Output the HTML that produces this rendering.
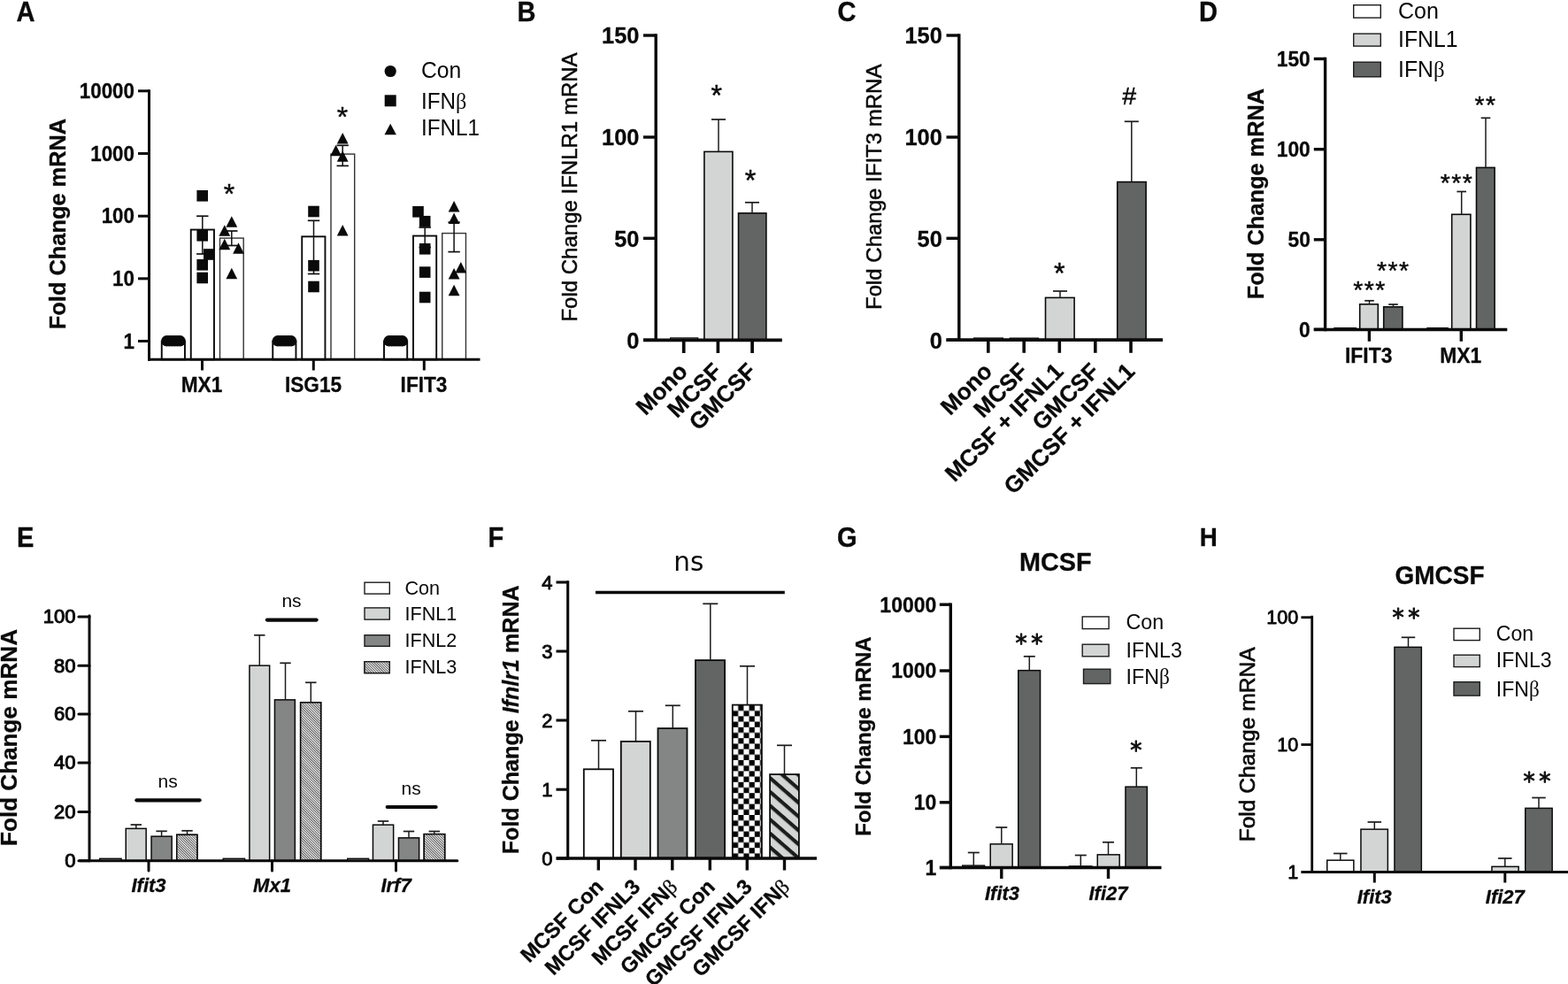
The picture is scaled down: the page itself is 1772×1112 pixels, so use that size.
<!DOCTYPE html>
<html lang="en">
<head>
<meta charset="utf-8">
<title>Figure</title>
<style>
html,body{margin:0;padding:0;background:#ffffff;}
body{width:1772px;height:1112px;overflow:hidden;}
svg{display:block;font-family:"Liberation Sans",sans-serif;fill:#0a0a0a;}
svg text{fill:#0a0a0a;stroke:none;}
svg text[font-weight="bold"]{stroke:#0a0a0a;stroke-width:0.3px;stroke-linejoin:round;}
</style>
</head>
<body>
<svg width="1772" height="1112" viewBox="0 0 1772 1112">
<rect x="0" y="0" width="1772" height="1112" fill="#ffffff" stroke="none"/>
<defs>
<pattern id="hatch" width="2" height="2" patternUnits="userSpaceOnUse" patternTransform="rotate(45)">
<rect width="2" height="2" fill="#ffffff"/><rect width="2" height="0.78" fill="#222222"/>
</pattern>
<pattern id="check" x="828.0" y="797.0" width="12.4" height="12.4" patternUnits="userSpaceOnUse">
<rect width="12.4" height="12.4" fill="#ffffff"/><rect x="6.2" y="0" width="6.2" height="6.2" fill="#050505"/><rect x="0" y="6.2" width="6.2" height="6.2" fill="#050505"/>
</pattern>
<pattern id="stripe" x="870" y="876.2" width="11.82" height="11.82" patternUnits="userSpaceOnUse" patternTransform="rotate(41 870 876.2)">
<rect width="11.82" height="11.82" fill="#d3d5d4"/><rect width="11.82" height="4.2" fill="#1c1c1c"/>
</pattern>
</defs>
<text x="0" y="0" font-size="30.68" font-weight="bold" font-style="normal" text-anchor="start" transform="translate(18.4 24) scale(0.9471 1)">A</text>
<text x="74.09" y="253" font-size="25.4" font-weight="bold" font-style="normal" text-anchor="middle" transform="rotate(-90 74.09 253)">Fold Change mRNA</text>
<rect x="182.75" y="385.65" width="26.2" height="20.65" fill="#fff" stroke="#0a0a0a" stroke-width="1.9"/>
<rect x="215.75" y="259.55" width="26.2" height="146.75" fill="#fff" stroke="#0a0a0a" stroke-width="1.9"/>
<rect x="248.5" y="269.1" width="26.7" height="137.2" fill="#fff" stroke="#333" stroke-width="1.4"/>
<rect x="308.25" y="385.65" width="26.2" height="20.65" fill="#fff" stroke="#0a0a0a" stroke-width="1.9"/>
<rect x="341.25" y="267.35" width="26.2" height="138.95" fill="#fff" stroke="#0a0a0a" stroke-width="1.9"/>
<rect x="374" y="174.1" width="26.7" height="232.2" fill="#fff" stroke="#333" stroke-width="1.4"/>
<rect x="434" y="385.65" width="26.2" height="20.65" fill="#fff" stroke="#0a0a0a" stroke-width="1.9"/>
<rect x="467" y="266.55" width="26.2" height="139.75" fill="#fff" stroke="#0a0a0a" stroke-width="1.9"/>
<rect x="499.75" y="263.6" width="26.7" height="142.7" fill="#fff" stroke="#333" stroke-width="1.4"/>
<line x1="228.8" y1="244.2" x2="228.8" y2="287" stroke="#111" stroke-width="1.5" stroke-linecap="butt"/>
<line x1="222.1" y1="244.2" x2="235.5" y2="244.2" stroke="#111" stroke-width="1.7" stroke-linecap="butt"/>
<line x1="222.1" y1="287" x2="235.5" y2="287" stroke="#111" stroke-width="1.7" stroke-linecap="butt"/>
<line x1="261.8" y1="261" x2="261.8" y2="277.5" stroke="#111" stroke-width="1.5" stroke-linecap="butt"/>
<line x1="255.1" y1="261" x2="268.5" y2="261" stroke="#111" stroke-width="1.7" stroke-linecap="butt"/>
<line x1="255.1" y1="277.5" x2="268.5" y2="277.5" stroke="#111" stroke-width="1.7" stroke-linecap="butt"/>
<line x1="354.5" y1="249.3" x2="354.5" y2="309.5" stroke="#111" stroke-width="1.5" stroke-linecap="butt"/>
<line x1="347.8" y1="249.3" x2="361.2" y2="249.3" stroke="#111" stroke-width="1.7" stroke-linecap="butt"/>
<line x1="347.8" y1="309.5" x2="361.2" y2="309.5" stroke="#111" stroke-width="1.7" stroke-linecap="butt"/>
<line x1="387.2" y1="164.3" x2="387.2" y2="187.4" stroke="#111" stroke-width="1.5" stroke-linecap="butt"/>
<line x1="380.5" y1="164.3" x2="393.9" y2="164.3" stroke="#111" stroke-width="1.7" stroke-linecap="butt"/>
<line x1="380.5" y1="187.4" x2="393.9" y2="187.4" stroke="#111" stroke-width="1.7" stroke-linecap="butt"/>
<line x1="480.2" y1="257" x2="480.2" y2="279.5" stroke="#111" stroke-width="1.5" stroke-linecap="butt"/>
<line x1="473.5" y1="257" x2="486.9" y2="257" stroke="#111" stroke-width="1.7" stroke-linecap="butt"/>
<line x1="473.5" y1="279.5" x2="486.9" y2="279.5" stroke="#111" stroke-width="1.7" stroke-linecap="butt"/>
<line x1="513.1" y1="251.2" x2="513.1" y2="284.6" stroke="#111" stroke-width="1.5" stroke-linecap="butt"/>
<line x1="506.4" y1="251.2" x2="519.8" y2="251.2" stroke="#111" stroke-width="1.7" stroke-linecap="butt"/>
<line x1="506.4" y1="284.6" x2="519.8" y2="284.6" stroke="#111" stroke-width="1.7" stroke-linecap="butt"/>
<circle cx="188.35" cy="385.3" r="6.2" fill="#0a0a0a"/>
<circle cx="191.39" cy="385.3" r="6.2" fill="#0a0a0a"/>
<circle cx="194.43" cy="385.3" r="6.2" fill="#0a0a0a"/>
<circle cx="197.47" cy="385.3" r="6.2" fill="#0a0a0a"/>
<circle cx="200.51" cy="385.3" r="6.2" fill="#0a0a0a"/>
<circle cx="203.55" cy="385.3" r="6.2" fill="#0a0a0a"/>
<circle cx="313.85" cy="385.3" r="6.2" fill="#0a0a0a"/>
<circle cx="316.89" cy="385.3" r="6.2" fill="#0a0a0a"/>
<circle cx="319.93" cy="385.3" r="6.2" fill="#0a0a0a"/>
<circle cx="322.97" cy="385.3" r="6.2" fill="#0a0a0a"/>
<circle cx="326.01" cy="385.3" r="6.2" fill="#0a0a0a"/>
<circle cx="329.05" cy="385.3" r="6.2" fill="#0a0a0a"/>
<circle cx="439.6" cy="385.3" r="6.2" fill="#0a0a0a"/>
<circle cx="442.64" cy="385.3" r="6.2" fill="#0a0a0a"/>
<circle cx="445.68" cy="385.3" r="6.2" fill="#0a0a0a"/>
<circle cx="448.72" cy="385.3" r="6.2" fill="#0a0a0a"/>
<circle cx="451.76" cy="385.3" r="6.2" fill="#0a0a0a"/>
<circle cx="454.8" cy="385.3" r="6.2" fill="#0a0a0a"/>
<rect x="222.4" y="215" width="12.6" height="12.6" fill="#0a0a0a"/>
<rect x="222.4" y="260" width="12.6" height="12.6" fill="#0a0a0a"/>
<rect x="230" y="281.2" width="12.6" height="12.6" fill="#0a0a0a"/>
<rect x="222.4" y="293" width="12.6" height="12.6" fill="#0a0a0a"/>
<rect x="222.4" y="307.7" width="12.6" height="12.6" fill="#0a0a0a"/>
<rect x="348.2" y="232.7" width="12.6" height="12.6" fill="#0a0a0a"/>
<rect x="348.2" y="293.9" width="12.6" height="12.6" fill="#0a0a0a"/>
<rect x="348.2" y="317.7" width="12.6" height="12.6" fill="#0a0a0a"/>
<rect x="466.2" y="233" width="12.6" height="12.6" fill="#0a0a0a"/>
<rect x="473.9" y="243.9" width="12.6" height="12.6" fill="#0a0a0a"/>
<rect x="473.9" y="275" width="12.6" height="12.6" fill="#0a0a0a"/>
<rect x="473.9" y="301.3" width="12.6" height="12.6" fill="#0a0a0a"/>
<rect x="473.9" y="329.7" width="12.6" height="12.6" fill="#0a0a0a"/>
<path d="M261.8 244.3L268.2 256.7L255.4 256.7Z" fill="#0a0a0a"/>
<path d="M253.8 254.3L260.2 266.7L247.4 266.7Z" fill="#0a0a0a"/>
<path d="M253.8 269.8L260.2 282.2L247.4 282.2Z" fill="#0a0a0a"/>
<path d="M269.5 274.3L275.9 286.7L263.1 286.7Z" fill="#0a0a0a"/>
<path d="M261.8 302.8L268.2 315.2L255.4 315.2Z" fill="#0a0a0a"/>
<path d="M387.2 150.1L393.6 162.5L380.8 162.5Z" fill="#0a0a0a"/>
<path d="M379.6 163.8L386 176.2L373.2 176.2Z" fill="#0a0a0a"/>
<path d="M387.2 170.3L393.6 182.7L380.8 182.7Z" fill="#0a0a0a"/>
<path d="M387.2 254.1L393.6 266.5L380.8 266.5Z" fill="#0a0a0a"/>
<path d="M513.1 227L519.5 239.4L506.7 239.4Z" fill="#0a0a0a"/>
<path d="M513.1 240.6L519.5 253L506.7 253Z" fill="#0a0a0a"/>
<path d="M520.8 296L527.2 308.4L514.4 308.4Z" fill="#0a0a0a"/>
<path d="M513.1 303.1L519.5 315.5L506.7 315.5Z" fill="#0a0a0a"/>
<path d="M513.1 321.8L519.5 334.2L506.7 334.2Z" fill="#0a0a0a"/>
<line x1="168.5" y1="101.3" x2="168.5" y2="407.8" stroke="#0a0a0a" stroke-width="3" stroke-linecap="butt"/>
<line x1="156" y1="385.5" x2="168.5" y2="385.5" stroke="#0a0a0a" stroke-width="3" stroke-linecap="butt"/>
<text x="0" y="0" font-size="23.62" font-weight="bold" font-style="normal" text-anchor="end" transform="translate(152 393.6) scale(0.9474 1)">1</text>
<line x1="156" y1="314.85" x2="168.5" y2="314.85" stroke="#0a0a0a" stroke-width="3" stroke-linecap="butt"/>
<text x="0" y="0" font-size="23.62" font-weight="bold" font-style="normal" text-anchor="end" transform="translate(152 322.95) scale(0.9474 1)">10</text>
<line x1="156" y1="244.2" x2="168.5" y2="244.2" stroke="#0a0a0a" stroke-width="3" stroke-linecap="butt"/>
<text x="0" y="0" font-size="23.62" font-weight="bold" font-style="normal" text-anchor="end" transform="translate(152 252.3) scale(0.9474 1)">100</text>
<line x1="156" y1="173.5" x2="168.5" y2="173.5" stroke="#0a0a0a" stroke-width="3" stroke-linecap="butt"/>
<text x="0" y="0" font-size="23.62" font-weight="bold" font-style="normal" text-anchor="end" transform="translate(152 181.6) scale(0.9474 1)">1000</text>
<line x1="156" y1="102.8" x2="168.5" y2="102.8" stroke="#0a0a0a" stroke-width="3" stroke-linecap="butt"/>
<text x="0" y="0" font-size="23.62" font-weight="bold" font-style="normal" text-anchor="end" transform="translate(152 110.9) scale(0.9474 1)">10000</text>
<line x1="167" y1="406.3" x2="542.5" y2="406.3" stroke="#0a0a0a" stroke-width="3" stroke-linecap="butt"/>
<line x1="228.5" y1="406.3" x2="228.5" y2="418.5" stroke="#0a0a0a" stroke-width="3" stroke-linecap="butt"/>
<line x1="354.3" y1="406.3" x2="354.3" y2="418.5" stroke="#0a0a0a" stroke-width="3" stroke-linecap="butt"/>
<line x1="479.3" y1="406.3" x2="479.3" y2="418.5" stroke="#0a0a0a" stroke-width="3" stroke-linecap="butt"/>
<text x="0" y="0" font-size="23.31" font-weight="bold" font-style="normal" text-anchor="middle" transform="translate(228 443) scale(0.9714 1)">MX1</text>
<text x="0" y="0" font-size="23.31" font-weight="bold" font-style="normal" text-anchor="middle" transform="translate(354 443) scale(0.9714 1)">ISG15</text>
<text x="0" y="0" font-size="23.31" font-weight="bold" font-style="normal" text-anchor="middle" transform="translate(479 443) scale(0.9714 1)">IFIT3</text>
<text x="259" y="230.4" font-size="32" font-weight="normal" font-style="normal" text-anchor="middle" style="stroke:#0a0a0a;stroke-width:0.45px;stroke-linejoin:round">*</text>
<text x="387" y="142.6" font-size="32" font-weight="normal" font-style="normal" text-anchor="middle" style="stroke:#0a0a0a;stroke-width:0.45px;stroke-linejoin:round">*</text>
<circle cx="441.2" cy="80.5" r="6.6" fill="#0a0a0a"/>
<rect x="434.7" y="107.3" width="13" height="13" fill="#0a0a0a"/>
<path d="M441.2 139.7L447.9 152.3L434.5 152.3Z" fill="#0a0a0a"/>
<text x="0" y="0" font-size="25.41" font-weight="normal" font-style="normal" text-anchor="start" transform="translate(476 88) scale(0.9714 1)">Con</text>
<text x="0" y="0" font-size="25.41" font-weight="normal" font-style="normal" text-anchor="start" transform="translate(476 122.5) scale(0.9524 1)">IFN<tspan font-family="'Liberation Serif', 'DejaVu Serif', serif" font-weight="normal" font-style="normal">β</tspan></text>
<text x="0" y="0" font-size="25.41" font-weight="normal" font-style="normal" text-anchor="start" transform="translate(476 152.6) scale(0.9524 1)">IFNL1</text>
<text x="0" y="0" font-size="30.68" font-weight="bold" font-style="normal" text-anchor="start" transform="translate(584.4 24) scale(0.9471 1)">B</text>
<text x="652.19" y="211.5" font-size="24" font-weight="normal" font-style="normal" text-anchor="middle" transform="rotate(-90 652.19 211.5)" style="stroke:#0a0a0a;stroke-width:0.55px;stroke-linejoin:round">Fold Change IFNLR1 mRNA</text>
<rect x="757.7" y="382" width="30.9" height="2.3" fill="#fff" stroke="#0a0a0a" stroke-width="1.4"/>
<rect x="795.9" y="171.4" width="32" height="212.9" fill="#d3d5d4" stroke="#0a0a0a" stroke-width="1.6"/>
<rect x="834.5" y="240.9" width="31.4" height="143.4" fill="#636464" stroke="#0a0a0a" stroke-width="1.6"/>
<line x1="812" y1="135" x2="812" y2="171.5" stroke="#1c1c1c" stroke-width="1.5" stroke-linecap="butt"/>
<line x1="804" y1="135" x2="820" y2="135" stroke="#1c1c1c" stroke-width="1.72" stroke-linecap="butt"/>
<line x1="850" y1="228.8" x2="850" y2="241" stroke="#1c1c1c" stroke-width="1.5" stroke-linecap="butt"/>
<line x1="842" y1="228.8" x2="858" y2="228.8" stroke="#1c1c1c" stroke-width="1.72" stroke-linecap="butt"/>
<line x1="741.2" y1="38.3" x2="741.2" y2="386" stroke="#0a0a0a" stroke-width="3.4" stroke-linecap="butt"/>
<line x1="727" y1="40" x2="741.2" y2="40" stroke="#0a0a0a" stroke-width="3.4" stroke-linecap="butt"/>
<text x="0" y="0" font-size="26.04" font-weight="bold" font-style="normal" text-anchor="end" transform="translate(722.4 49.2) scale(0.9762 1)">150</text>
<line x1="727" y1="155" x2="741.2" y2="155" stroke="#0a0a0a" stroke-width="3.4" stroke-linecap="butt"/>
<text x="0" y="0" font-size="26.04" font-weight="bold" font-style="normal" text-anchor="end" transform="translate(722.4 164.2) scale(0.9762 1)">100</text>
<line x1="727" y1="269.3" x2="741.2" y2="269.3" stroke="#0a0a0a" stroke-width="3.4" stroke-linecap="butt"/>
<text x="0" y="0" font-size="26.04" font-weight="bold" font-style="normal" text-anchor="end" transform="translate(722.4 278.5) scale(0.9762 1)">50</text>
<line x1="727" y1="384.3" x2="741.2" y2="384.3" stroke="#0a0a0a" stroke-width="3.4" stroke-linecap="butt"/>
<text x="0" y="0" font-size="26.04" font-weight="bold" font-style="normal" text-anchor="end" transform="translate(722.4 393.5) scale(0.9762 1)">0</text>
<line x1="727" y1="384.3" x2="883.8" y2="384.3" stroke="#0a0a0a" stroke-width="3.7" stroke-linecap="butt"/>
<line x1="772.7" y1="384.3" x2="772.7" y2="399" stroke="#0a0a0a" stroke-width="3.7" stroke-linecap="butt"/>
<line x1="811.4" y1="384.3" x2="811.4" y2="399" stroke="#0a0a0a" stroke-width="3.7" stroke-linecap="butt"/>
<line x1="850.1" y1="384.3" x2="850.1" y2="399" stroke="#0a0a0a" stroke-width="3.7" stroke-linecap="butt"/>
<text x="778.6" y="421.2" font-size="26.1" font-weight="bold" font-style="normal" text-anchor="end" transform="rotate(-45 778.6 421.2)">Mono</text>
<text x="817.4" y="421.2" font-size="26.1" font-weight="bold" font-style="normal" text-anchor="end" transform="rotate(-45 817.4 421.2)">MCSF</text>
<text x="856.1" y="421.2" font-size="26.1" font-weight="bold" font-style="normal" text-anchor="end" transform="rotate(-45 856.1 421.2)">GMCSF</text>
<text x="809.9" y="119.35" font-size="32.3" font-weight="normal" font-style="normal" text-anchor="middle" style="stroke:#0a0a0a;stroke-width:0.45px;stroke-linejoin:round">*</text>
<text x="848" y="215.15" font-size="32.3" font-weight="normal" font-style="normal" text-anchor="middle" style="stroke:#0a0a0a;stroke-width:0.45px;stroke-linejoin:round">*</text>
<text x="0" y="0" font-size="30.68" font-weight="bold" font-style="normal" text-anchor="start" transform="translate(946.6 24) scale(0.9471 1)">C</text>
<text x="995.99" y="211.3" font-size="24" font-weight="normal" font-style="normal" text-anchor="middle" transform="rotate(-90 995.99 211.3)" style="stroke:#0a0a0a;stroke-width:0.55px;stroke-linejoin:round">Fold Change IFIT3 mRNA</text>
<rect x="1100.7" y="382.1" width="32.7" height="2.2" fill="#fff" stroke="#0a0a0a" stroke-width="1.4"/>
<rect x="1141.4" y="382.2" width="32" height="2.1" fill="#fff" stroke="#0a0a0a" stroke-width="1.4"/>
<rect x="1181.5" y="336.4" width="32.6" height="47.9" fill="#d3d5d4" stroke="#0a0a0a" stroke-width="1.6"/>
<rect x="1262.7" y="205.6" width="32.4" height="178.7" fill="#636464" stroke="#0a0a0a" stroke-width="1.6"/>
<line x1="1198" y1="329" x2="1198" y2="336.5" stroke="#1c1c1c" stroke-width="1.5" stroke-linecap="butt"/>
<line x1="1190" y1="329" x2="1206" y2="329" stroke="#1c1c1c" stroke-width="1.72" stroke-linecap="butt"/>
<line x1="1278.8" y1="137.3" x2="1278.8" y2="205.8" stroke="#1c1c1c" stroke-width="1.5" stroke-linecap="butt"/>
<line x1="1270.8" y1="137.3" x2="1286.8" y2="137.3" stroke="#1c1c1c" stroke-width="1.72" stroke-linecap="butt"/>
<line x1="1083.8" y1="38.3" x2="1083.8" y2="386" stroke="#0a0a0a" stroke-width="3.4" stroke-linecap="butt"/>
<line x1="1069.5" y1="40" x2="1083.8" y2="40" stroke="#0a0a0a" stroke-width="3.4" stroke-linecap="butt"/>
<text x="0" y="0" font-size="26.04" font-weight="bold" font-style="normal" text-anchor="end" transform="translate(1064.8 49.2) scale(0.9762 1)">150</text>
<line x1="1069.5" y1="155" x2="1083.8" y2="155" stroke="#0a0a0a" stroke-width="3.4" stroke-linecap="butt"/>
<text x="0" y="0" font-size="26.04" font-weight="bold" font-style="normal" text-anchor="end" transform="translate(1064.8 164.2) scale(0.9762 1)">100</text>
<line x1="1069.5" y1="269.3" x2="1083.8" y2="269.3" stroke="#0a0a0a" stroke-width="3.4" stroke-linecap="butt"/>
<text x="0" y="0" font-size="26.04" font-weight="bold" font-style="normal" text-anchor="end" transform="translate(1064.8 278.5) scale(0.9762 1)">50</text>
<line x1="1069.5" y1="384.3" x2="1083.8" y2="384.3" stroke="#0a0a0a" stroke-width="3.4" stroke-linecap="butt"/>
<text x="0" y="0" font-size="26.04" font-weight="bold" font-style="normal" text-anchor="end" transform="translate(1064.8 393.5) scale(0.9762 1)">0</text>
<line x1="1069.5" y1="384.1" x2="1314" y2="384.1" stroke="#0a0a0a" stroke-width="3.6" stroke-linecap="butt"/>
<line x1="1116.8" y1="384.1" x2="1116.8" y2="398.8" stroke="#0a0a0a" stroke-width="3.6" stroke-linecap="butt"/>
<line x1="1157.2" y1="384.1" x2="1157.2" y2="398.8" stroke="#0a0a0a" stroke-width="3.6" stroke-linecap="butt"/>
<line x1="1197.3" y1="384.1" x2="1197.3" y2="398.8" stroke="#0a0a0a" stroke-width="3.6" stroke-linecap="butt"/>
<line x1="1237.8" y1="384.1" x2="1237.8" y2="398.8" stroke="#0a0a0a" stroke-width="3.6" stroke-linecap="butt"/>
<line x1="1278" y1="384.1" x2="1278" y2="398.8" stroke="#0a0a0a" stroke-width="3.6" stroke-linecap="butt"/>
<text x="1122.9" y="421.2" font-size="26.1" font-weight="bold" font-style="normal" text-anchor="end" transform="rotate(-45 1122.9 421.2)">Mono</text>
<text x="1163.3" y="421.2" font-size="26.1" font-weight="bold" font-style="normal" text-anchor="end" transform="rotate(-45 1163.3 421.2)">MCSF</text>
<text x="1203.4" y="421.2" font-size="26.1" font-weight="bold" font-style="normal" text-anchor="end" transform="rotate(-45 1203.4 421.2)">MCSF + IFNL1</text>
<text x="1243.9" y="421.2" font-size="26.1" font-weight="bold" font-style="normal" text-anchor="end" transform="rotate(-45 1243.9 421.2)">GMCSF</text>
<text x="1284.1" y="421.2" font-size="26.1" font-weight="bold" font-style="normal" text-anchor="end" transform="rotate(-45 1284.1 421.2)">GMCSF + IFNL1</text>
<text x="1197.2" y="319.55" font-size="32.3" font-weight="normal" font-style="normal" text-anchor="middle" style="stroke:#0a0a0a;stroke-width:0.45px;stroke-linejoin:round">*</text>
<text x="1276.3" y="118.3" font-size="28.5" font-weight="normal" font-style="normal" text-anchor="middle" style="stroke:#0a0a0a;stroke-width:0.45px">#</text>
<text x="0" y="0" font-size="30.68" font-weight="bold" font-style="normal" text-anchor="start" transform="translate(1354.9 24) scale(0.9471 1)">D</text>
<text x="1428.09" y="219" font-size="25.4" font-weight="bold" font-style="normal" text-anchor="middle" transform="rotate(-90 1428.09 219)">Fold Change mRNA</text>
<rect x="1508" y="370.7" width="24.4" height="1.8" fill="#fff" stroke="#0a0a0a" stroke-width="1.4"/>
<rect x="1536.7" y="343.8" width="20.6" height="28.7" fill="#d3d5d4" stroke="#0a0a0a" stroke-width="1.6"/>
<rect x="1563.7" y="346.8" width="21.2" height="25.7" fill="#636464" stroke="#0a0a0a" stroke-width="1.6"/>
<rect x="1613" y="370.7" width="23.2" height="1.8" fill="#fff" stroke="#0a0a0a" stroke-width="1.4"/>
<rect x="1640.7" y="242.3" width="21.2" height="130.2" fill="#d3d5d4" stroke="#0a0a0a" stroke-width="1.6"/>
<rect x="1668.5" y="189.4" width="20.6" height="183.1" fill="#636464" stroke="#0a0a0a" stroke-width="1.6"/>
<line x1="1547.5" y1="339.8" x2="1547.5" y2="344" stroke="#1c1c1c" stroke-width="1.5" stroke-linecap="butt"/>
<line x1="1542.2" y1="339.8" x2="1552.8" y2="339.8" stroke="#1c1c1c" stroke-width="1.72" stroke-linecap="butt"/>
<line x1="1574.5" y1="344" x2="1574.5" y2="347" stroke="#1c1c1c" stroke-width="1.5" stroke-linecap="butt"/>
<line x1="1569.2" y1="344" x2="1579.8" y2="344" stroke="#1c1c1c" stroke-width="1.72" stroke-linecap="butt"/>
<line x1="1651.7" y1="216.5" x2="1651.7" y2="242.5" stroke="#1c1c1c" stroke-width="1.5" stroke-linecap="butt"/>
<line x1="1646.4" y1="216.5" x2="1657" y2="216.5" stroke="#1c1c1c" stroke-width="1.72" stroke-linecap="butt"/>
<line x1="1679" y1="133.3" x2="1679" y2="189.5" stroke="#1c1c1c" stroke-width="1.5" stroke-linecap="butt"/>
<line x1="1673.7" y1="133.3" x2="1684.3" y2="133.3" stroke="#1c1c1c" stroke-width="1.72" stroke-linecap="butt"/>
<line x1="1497.6" y1="64.8" x2="1497.6" y2="374.2" stroke="#0a0a0a" stroke-width="3.4" stroke-linecap="butt"/>
<line x1="1484.8" y1="66.5" x2="1497.6" y2="66.5" stroke="#0a0a0a" stroke-width="3.4" stroke-linecap="butt"/>
<text x="0" y="0" font-size="23.94" font-weight="bold" font-style="normal" text-anchor="end" transform="translate(1480.8 74.71) scale(0.9524 1)">150</text>
<line x1="1484.8" y1="168.7" x2="1497.6" y2="168.7" stroke="#0a0a0a" stroke-width="3.4" stroke-linecap="butt"/>
<text x="0" y="0" font-size="23.94" font-weight="bold" font-style="normal" text-anchor="end" transform="translate(1480.8 176.91) scale(0.9524 1)">100</text>
<line x1="1484.8" y1="270.8" x2="1497.6" y2="270.8" stroke="#0a0a0a" stroke-width="3.4" stroke-linecap="butt"/>
<text x="0" y="0" font-size="23.94" font-weight="bold" font-style="normal" text-anchor="end" transform="translate(1480.8 279.01) scale(0.9524 1)">50</text>
<line x1="1484.8" y1="372.3" x2="1497.6" y2="372.3" stroke="#0a0a0a" stroke-width="3.4" stroke-linecap="butt"/>
<text x="0" y="0" font-size="23.94" font-weight="bold" font-style="normal" text-anchor="end" transform="translate(1480.8 380.51) scale(0.9524 1)">0</text>
<line x1="1484.8" y1="372.5" x2="1703.3" y2="372.5" stroke="#0a0a0a" stroke-width="3.4" stroke-linecap="butt"/>
<line x1="1547.4" y1="372.5" x2="1547.4" y2="385.8" stroke="#0a0a0a" stroke-width="3.4" stroke-linecap="butt"/>
<line x1="1651.3" y1="372.5" x2="1651.3" y2="385.8" stroke="#0a0a0a" stroke-width="3.4" stroke-linecap="butt"/>
<text x="0" y="0" font-size="24.27" font-weight="bold" font-style="normal" text-anchor="middle" transform="translate(1546.7 409.5) scale(0.9434 1)">IFIT3</text>
<text x="0" y="0" font-size="24.27" font-weight="bold" font-style="normal" text-anchor="middle" transform="translate(1650.8 409.5) scale(0.9434 1)">MX1</text>
<text x="1548.05" y="337.16" font-size="28.4" font-weight="normal" font-style="normal" text-anchor="middle" letter-spacing="1.5" style="stroke:#0a0a0a;stroke-width:0.45px;stroke-linejoin:round">***</text>
<text x="1574.75" y="315.36" font-size="28.4" font-weight="normal" font-style="normal" text-anchor="middle" letter-spacing="1.5" style="stroke:#0a0a0a;stroke-width:0.45px;stroke-linejoin:round">***</text>
<text x="1646.55" y="215.86" font-size="28.4" font-weight="normal" font-style="normal" text-anchor="middle" letter-spacing="1.5" style="stroke:#0a0a0a;stroke-width:0.45px;stroke-linejoin:round">***</text>
<text x="1679.05" y="128.25" font-size="28.4" font-weight="normal" font-style="normal" text-anchor="middle" letter-spacing="1.5" style="stroke:#0a0a0a;stroke-width:0.45px;stroke-linejoin:round">**</text>
<rect x="1529.7" y="5.7" width="30.6" height="14.4" fill="#fff" stroke="#1c1c1c" stroke-width="1.4"/>
<rect x="1529.7" y="38.1" width="30.6" height="14" fill="#d3d5d4" stroke="#1c1c1c" stroke-width="1.4"/>
<rect x="1529.7" y="70.2" width="30.6" height="16.6" fill="#636464" stroke="#1c1c1c" stroke-width="1.4"/>
<text x="0" y="0" font-size="25.64" font-weight="normal" font-style="normal" text-anchor="start" transform="translate(1580 20.9) scale(0.9763 1)">Con</text>
<text x="0" y="0" font-size="25.52" font-weight="normal" font-style="normal" text-anchor="start" transform="translate(1580 52.6) scale(0.9714 1)">IFNL1</text>
<text x="0" y="0" font-size="25.52" font-weight="normal" font-style="normal" text-anchor="start" transform="translate(1580 86.8) scale(0.9714 1)">IFN<tspan font-family="'Liberation Serif', 'DejaVu Serif', serif" font-weight="normal" font-style="normal">β</tspan></text>
<text x="0" y="0" font-size="30.68" font-weight="bold" font-style="normal" text-anchor="start" transform="translate(18.9 617.5) scale(0.9471 1)">E</text>
<text x="19.34" y="833.5" font-size="26.1" font-weight="bold" font-style="normal" text-anchor="middle" transform="rotate(-90 19.34 833.5)">Fold Change mRNA</text>
<rect x="112.7" y="970.3" width="24.4" height="2.5" fill="#fff" stroke="#0a0a0a" stroke-width="1.4"/>
<rect x="142.25" y="936.35" width="22.9" height="36.45" fill="#d3d5d4" stroke="#0a0a0a" stroke-width="1.5"/>
<rect x="171.05" y="945.15" width="23.1" height="27.65" fill="#848585" stroke="#0a0a0a" stroke-width="1.5"/>
<rect x="199.75" y="943.35" width="23.1" height="29.45" fill="#fff" stroke="#0a0a0a" stroke-width="1.5"/>
<rect x="199.75" y="943.35" width="23.1" height="29.45" fill="url(#hatch)" stroke="#0a0a0a" stroke-width="1.5"/>
<rect x="252.2" y="970.3" width="24.4" height="2.5" fill="#fff" stroke="#0a0a0a" stroke-width="1.4"/>
<rect x="281.95" y="752.15" width="22.7" height="220.65" fill="#d3d5d4" stroke="#0a0a0a" stroke-width="1.5"/>
<rect x="310.45" y="790.85" width="22.9" height="181.95" fill="#848585" stroke="#0a0a0a" stroke-width="1.5"/>
<rect x="339.65" y="793.85" width="23" height="178.95" fill="#fff" stroke="#0a0a0a" stroke-width="1.5"/>
<rect x="339.65" y="793.85" width="23" height="178.95" fill="url(#hatch)" stroke="#0a0a0a" stroke-width="1.5"/>
<rect x="392.7" y="970.3" width="23.9" height="2.5" fill="#fff" stroke="#0a0a0a" stroke-width="1.4"/>
<rect x="421.45" y="932.15" width="23.2" height="40.65" fill="#d3d5d4" stroke="#0a0a0a" stroke-width="1.5"/>
<rect x="450.45" y="946.85" width="23.2" height="25.95" fill="#848585" stroke="#0a0a0a" stroke-width="1.5"/>
<rect x="479.25" y="942.65" width="23.4" height="30.15" fill="#fff" stroke="#0a0a0a" stroke-width="1.5"/>
<rect x="479.25" y="942.65" width="23.4" height="30.15" fill="url(#hatch)" stroke="#0a0a0a" stroke-width="1.5"/>
<line x1="153.8" y1="932" x2="153.8" y2="936.5" stroke="#1c1c1c" stroke-width="1.5" stroke-linecap="butt"/>
<line x1="147.6" y1="932" x2="160" y2="932" stroke="#1c1c1c" stroke-width="1.72" stroke-linecap="butt"/>
<line x1="182.6" y1="939.3" x2="182.6" y2="945.3" stroke="#1c1c1c" stroke-width="1.5" stroke-linecap="butt"/>
<line x1="176.4" y1="939.3" x2="188.8" y2="939.3" stroke="#1c1c1c" stroke-width="1.72" stroke-linecap="butt"/>
<line x1="211.5" y1="938.8" x2="211.5" y2="943.5" stroke="#1c1c1c" stroke-width="1.5" stroke-linecap="butt"/>
<line x1="205.3" y1="938.8" x2="217.7" y2="938.8" stroke="#1c1c1c" stroke-width="1.72" stroke-linecap="butt"/>
<line x1="293.3" y1="717.8" x2="293.3" y2="752.3" stroke="#1c1c1c" stroke-width="1.5" stroke-linecap="butt"/>
<line x1="287.1" y1="717.8" x2="299.5" y2="717.8" stroke="#1c1c1c" stroke-width="1.72" stroke-linecap="butt"/>
<line x1="322.5" y1="749.3" x2="322.5" y2="791" stroke="#1c1c1c" stroke-width="1.5" stroke-linecap="butt"/>
<line x1="316.3" y1="749.3" x2="328.7" y2="749.3" stroke="#1c1c1c" stroke-width="1.72" stroke-linecap="butt"/>
<line x1="351.3" y1="771.3" x2="351.3" y2="794" stroke="#1c1c1c" stroke-width="1.5" stroke-linecap="butt"/>
<line x1="345.1" y1="771.3" x2="357.5" y2="771.3" stroke="#1c1c1c" stroke-width="1.72" stroke-linecap="butt"/>
<line x1="433" y1="928" x2="433" y2="932.3" stroke="#1c1c1c" stroke-width="1.5" stroke-linecap="butt"/>
<line x1="426.8" y1="928" x2="439.2" y2="928" stroke="#1c1c1c" stroke-width="1.72" stroke-linecap="butt"/>
<line x1="462" y1="939.5" x2="462" y2="947" stroke="#1c1c1c" stroke-width="1.5" stroke-linecap="butt"/>
<line x1="455.8" y1="939.5" x2="468.2" y2="939.5" stroke="#1c1c1c" stroke-width="1.72" stroke-linecap="butt"/>
<line x1="490.8" y1="939.5" x2="490.8" y2="942.8" stroke="#1c1c1c" stroke-width="1.5" stroke-linecap="butt"/>
<line x1="484.6" y1="939.5" x2="497" y2="939.5" stroke="#1c1c1c" stroke-width="1.72" stroke-linecap="butt"/>
<line x1="101" y1="695.8" x2="101" y2="972.8" stroke="#0a0a0a" stroke-width="3" stroke-linecap="round"/>
<line x1="88.9" y1="697" x2="101" y2="697" stroke="#0a0a0a" stroke-width="3" stroke-linecap="round"/>
<text x="0" y="0" font-size="21.56" font-weight="normal" font-style="normal" text-anchor="end" transform="translate(85.4 704.4) scale(1.0204 1)" style="stroke:#0a0a0a;stroke-width:1.0px;stroke-linejoin:round">100</text>
<line x1="88.9" y1="752.2" x2="101" y2="752.2" stroke="#0a0a0a" stroke-width="3" stroke-linecap="round"/>
<text x="0" y="0" font-size="21.56" font-weight="normal" font-style="normal" text-anchor="end" transform="translate(85.4 759.6) scale(1.0204 1)" style="stroke:#0a0a0a;stroke-width:1.0px;stroke-linejoin:round">80</text>
<line x1="88.9" y1="807" x2="101" y2="807" stroke="#0a0a0a" stroke-width="3" stroke-linecap="round"/>
<text x="0" y="0" font-size="21.56" font-weight="normal" font-style="normal" text-anchor="end" transform="translate(85.4 814.4) scale(1.0204 1)" style="stroke:#0a0a0a;stroke-width:1.0px;stroke-linejoin:round">60</text>
<line x1="88.9" y1="862" x2="101" y2="862" stroke="#0a0a0a" stroke-width="3" stroke-linecap="round"/>
<text x="0" y="0" font-size="21.56" font-weight="normal" font-style="normal" text-anchor="end" transform="translate(85.4 869.4) scale(1.0204 1)" style="stroke:#0a0a0a;stroke-width:1.0px;stroke-linejoin:round">40</text>
<line x1="88.9" y1="917.5" x2="101" y2="917.5" stroke="#0a0a0a" stroke-width="3" stroke-linecap="round"/>
<text x="0" y="0" font-size="21.56" font-weight="normal" font-style="normal" text-anchor="end" transform="translate(85.4 924.9) scale(1.0204 1)" style="stroke:#0a0a0a;stroke-width:1.0px;stroke-linejoin:round">20</text>
<line x1="88.9" y1="972.8" x2="101" y2="972.8" stroke="#0a0a0a" stroke-width="3" stroke-linecap="round"/>
<text x="0" y="0" font-size="21.56" font-weight="normal" font-style="normal" text-anchor="end" transform="translate(85.4 980.2) scale(1.0204 1)" style="stroke:#0a0a0a;stroke-width:1.0px;stroke-linejoin:round">0</text>
<line x1="90.3" y1="972.8" x2="516.8" y2="972.8" stroke="#0a0a0a" stroke-width="3" stroke-linecap="round"/>
<line x1="168" y1="972.8" x2="168" y2="984" stroke="#0a0a0a" stroke-width="3" stroke-linecap="round"/>
<line x1="307.5" y1="972.8" x2="307.5" y2="984" stroke="#0a0a0a" stroke-width="3" stroke-linecap="round"/>
<line x1="447.5" y1="972.8" x2="447.5" y2="984" stroke="#0a0a0a" stroke-width="3" stroke-linecap="round"/>
<text x="168" y="1008" font-size="22" font-weight="bold" font-style="italic" text-anchor="middle">Ifit3</text>
<text x="307.5" y="1008" font-size="22" font-weight="bold" font-style="italic" text-anchor="middle">Mx1</text>
<text x="447.5" y="1008" font-size="22" font-weight="bold" font-style="italic" text-anchor="middle">Irf7</text>
<line x1="154.4" y1="904.3" x2="225.6" y2="904.3" stroke="#0a0a0a" stroke-width="4.2" stroke-linecap="round"/>
<text x="189.6" y="890" font-size="21" font-weight="normal" font-style="normal" text-anchor="middle">ns</text>
<line x1="301.9" y1="700.6" x2="357.6" y2="700.6" stroke="#0a0a0a" stroke-width="4.2" stroke-linecap="round"/>
<text x="329.5" y="686.3" font-size="21" font-weight="normal" font-style="normal" text-anchor="middle">ns</text>
<line x1="437.7" y1="912" x2="492.6" y2="912" stroke="#0a0a0a" stroke-width="4.2" stroke-linecap="round"/>
<text x="464.6" y="897.5" font-size="21" font-weight="normal" font-style="normal" text-anchor="middle">ns</text>
<rect x="412" y="658.2" width="28.3" height="12.9" fill="#fff" stroke="#1c1c1c" stroke-width="1.4"/>
<text x="0" y="0" font-size="22.68" font-weight="normal" font-style="normal" text-anchor="start" transform="translate(457.5 671.6) scale(0.9524 1)">Con</text>
<rect x="412" y="686.9" width="28.3" height="13.2" fill="#d3d5d4" stroke="#1c1c1c" stroke-width="1.4"/>
<text x="0" y="0" font-size="22.68" font-weight="normal" font-style="normal" text-anchor="start" transform="translate(457.5 700.6) scale(0.9524 1)">IFNL1</text>
<rect x="412" y="717.7" width="28.3" height="12.6" fill="#848585" stroke="#1c1c1c" stroke-width="1.4"/>
<text x="0" y="0" font-size="22.68" font-weight="normal" font-style="normal" text-anchor="start" transform="translate(457.5 730.8) scale(0.9524 1)">IFNL2</text>
<rect x="412" y="747.7" width="28.3" height="12.9" fill="#fff" stroke="#1c1c1c" stroke-width="1.4"/>
<rect x="412" y="747.7" width="28.3" height="12.9" fill="url(#hatch)" stroke="#1c1c1c" stroke-width="1.4"/>
<text x="0" y="0" font-size="22.68" font-weight="normal" font-style="normal" text-anchor="start" transform="translate(457.5 761.1) scale(0.9524 1)">IFNL3</text>
<text x="0" y="0" font-size="30.68" font-weight="bold" font-style="normal" text-anchor="start" transform="translate(551.4 617.5) scale(0.9471 1)">F</text>
<text x="586.29" y="813.3" font-size="25.1" font-weight="bold" font-style="normal" text-anchor="middle" transform="rotate(-90 586.29 813.3)">Fold Change <tspan font-style="italic">Ifnlr1</tspan> mRNA</text>
<rect x="659.8" y="869.3" width="33.2" height="100.7" fill="#fff" stroke="#0a0a0a" stroke-width="1.8"/>
<rect x="701.8" y="837.9" width="33" height="132.1" fill="#d3d5d4" stroke="#0a0a0a" stroke-width="1.8"/>
<rect x="743.5" y="823.1" width="33" height="146.9" fill="#848585" stroke="#0a0a0a" stroke-width="1.8"/>
<rect x="786" y="746.1" width="33.1" height="223.9" fill="#636464" stroke="#0a0a0a" stroke-width="1.8"/>
<rect x="827.8" y="796.6" width="33.1" height="173.4" fill="url(#check)" stroke="#0a0a0a" stroke-width="1.8"/>
<rect x="870.1" y="875.1" width="32.8" height="94.9" fill="url(#stripe)" stroke="#0a0a0a" stroke-width="1.8"/>
<line x1="676.5" y1="836.8" x2="676.5" y2="869.3" stroke="#1c1c1c" stroke-width="1.5" stroke-linecap="butt"/>
<line x1="668" y1="836.8" x2="685" y2="836.8" stroke="#1c1c1c" stroke-width="1.72" stroke-linecap="butt"/>
<line x1="718.5" y1="803.8" x2="718.5" y2="838" stroke="#1c1c1c" stroke-width="1.5" stroke-linecap="butt"/>
<line x1="710" y1="803.8" x2="727" y2="803.8" stroke="#1c1c1c" stroke-width="1.72" stroke-linecap="butt"/>
<line x1="760.3" y1="797.3" x2="760.3" y2="823" stroke="#1c1c1c" stroke-width="1.5" stroke-linecap="butt"/>
<line x1="751.8" y1="797.3" x2="768.8" y2="797.3" stroke="#1c1c1c" stroke-width="1.72" stroke-linecap="butt"/>
<line x1="802.8" y1="682.3" x2="802.8" y2="746" stroke="#1c1c1c" stroke-width="1.5" stroke-linecap="butt"/>
<line x1="794.3" y1="682.3" x2="811.3" y2="682.3" stroke="#1c1c1c" stroke-width="1.72" stroke-linecap="butt"/>
<line x1="844.5" y1="752.8" x2="844.5" y2="796.5" stroke="#1c1c1c" stroke-width="1.5" stroke-linecap="butt"/>
<line x1="836" y1="752.8" x2="853" y2="752.8" stroke="#1c1c1c" stroke-width="1.72" stroke-linecap="butt"/>
<line x1="886.5" y1="842.3" x2="886.5" y2="875" stroke="#1c1c1c" stroke-width="1.5" stroke-linecap="butt"/>
<line x1="878" y1="842.3" x2="895" y2="842.3" stroke="#1c1c1c" stroke-width="1.72" stroke-linecap="butt"/>
<line x1="641.7" y1="656.3" x2="641.7" y2="971.55" stroke="#0a0a0a" stroke-width="3.1" stroke-linecap="butt"/>
<line x1="628.5" y1="658" x2="641.7" y2="658" stroke="#0a0a0a" stroke-width="3.1" stroke-linecap="butt"/>
<text x="0" y="0" font-size="22.66" font-weight="normal" font-style="normal" text-anchor="end" transform="translate(624.6 665.77) scale(0.9709 1)" style="stroke:#0a0a0a;stroke-width:0.9px;stroke-linejoin:round">4</text>
<line x1="628.5" y1="736" x2="641.7" y2="736" stroke="#0a0a0a" stroke-width="3.1" stroke-linecap="butt"/>
<text x="0" y="0" font-size="22.66" font-weight="normal" font-style="normal" text-anchor="end" transform="translate(624.6 743.77) scale(0.9709 1)" style="stroke:#0a0a0a;stroke-width:0.9px;stroke-linejoin:round">3</text>
<line x1="628.5" y1="814" x2="641.7" y2="814" stroke="#0a0a0a" stroke-width="3.1" stroke-linecap="butt"/>
<text x="0" y="0" font-size="22.66" font-weight="normal" font-style="normal" text-anchor="end" transform="translate(624.6 821.77) scale(0.9709 1)" style="stroke:#0a0a0a;stroke-width:0.9px;stroke-linejoin:round">2</text>
<line x1="628.5" y1="892.2" x2="641.7" y2="892.2" stroke="#0a0a0a" stroke-width="3.1" stroke-linecap="butt"/>
<text x="0" y="0" font-size="22.66" font-weight="normal" font-style="normal" text-anchor="end" transform="translate(624.6 899.97) scale(0.9709 1)" style="stroke:#0a0a0a;stroke-width:0.9px;stroke-linejoin:round">1</text>
<line x1="628.5" y1="970" x2="641.7" y2="970" stroke="#0a0a0a" stroke-width="3.1" stroke-linecap="butt"/>
<text x="0" y="0" font-size="22.66" font-weight="normal" font-style="normal" text-anchor="end" transform="translate(624.6 977.77) scale(0.9709 1)" style="stroke:#0a0a0a;stroke-width:0.9px;stroke-linejoin:round">0</text>
<line x1="628.8" y1="970" x2="923" y2="970" stroke="#0a0a0a" stroke-width="3.4" stroke-linecap="butt"/>
<line x1="676.3" y1="970" x2="676.3" y2="983.5" stroke="#0a0a0a" stroke-width="3.4" stroke-linecap="butt"/>
<line x1="718" y1="970" x2="718" y2="983.5" stroke="#0a0a0a" stroke-width="3.4" stroke-linecap="butt"/>
<line x1="759.8" y1="970" x2="759.8" y2="983.5" stroke="#0a0a0a" stroke-width="3.4" stroke-linecap="butt"/>
<line x1="802.3" y1="970" x2="802.3" y2="983.5" stroke="#0a0a0a" stroke-width="3.4" stroke-linecap="butt"/>
<line x1="844.3" y1="970" x2="844.3" y2="983.5" stroke="#0a0a0a" stroke-width="3.4" stroke-linecap="butt"/>
<line x1="886.5" y1="970" x2="886.5" y2="983.5" stroke="#0a0a0a" stroke-width="3.4" stroke-linecap="butt"/>
<text x="683.3" y="1003.7" font-size="23.9" font-weight="bold" font-style="normal" text-anchor="end" transform="rotate(-45 683.3 1003.7)">MCSF Con</text>
<text x="725" y="1003.7" font-size="23.9" font-weight="bold" font-style="normal" text-anchor="end" transform="rotate(-45 725 1003.7)">MCSF IFNL3</text>
<text x="766.8" y="1003.7" font-size="23.9" font-weight="bold" font-style="normal" text-anchor="end" transform="rotate(-45 766.8 1003.7)">MCSF IFN<tspan font-family="'Liberation Serif', 'DejaVu Serif', serif" font-weight="normal" font-style="normal">β</tspan></text>
<text x="809.3" y="1003.7" font-size="23.9" font-weight="bold" font-style="normal" text-anchor="end" transform="rotate(-45 809.3 1003.7)">GMCSF Con</text>
<text x="851.3" y="1003.7" font-size="23.9" font-weight="bold" font-style="normal" text-anchor="end" transform="rotate(-45 851.3 1003.7)">GMCSF IFNL3</text>
<text x="893.5" y="1003.7" font-size="23.9" font-weight="bold" font-style="normal" text-anchor="end" transform="rotate(-45 893.5 1003.7)">GMCSF IFN<tspan font-family="'Liberation Serif', 'DejaVu Serif', serif" font-weight="normal" font-style="normal">β</tspan></text>
<line x1="673" y1="669.5" x2="886.8" y2="669.5" stroke="#0a0a0a" stroke-width="3.6" stroke-linecap="butt"/>
<text x="778.3" y="645" font-size="29.5" font-weight="normal" font-style="normal" text-anchor="middle" font-family="'DejaVu Sans', 'Liberation Sans', sans-serif">ns</text>
<text x="0" y="0" font-size="30.68" font-weight="bold" font-style="normal" text-anchor="start" transform="translate(945.9 617.5) scale(0.9471 1)">G</text>
<text x="0" y="0" font-size="29.95" font-weight="bold" font-style="normal" text-anchor="middle" transform="translate(1192.8 644.6) scale(0.9615 1)">MCSF</text>
<text x="983.99" y="832" font-size="24" font-weight="bold" font-style="normal" text-anchor="middle" transform="rotate(-90 983.99 832)">Fold Change mRNA</text>
<rect x="1087.75" y="978.15" width="24.8" height="2.35" fill="#fff" stroke="#0a0a0a" stroke-width="1.5"/>
<rect x="1119.25" y="953.85" width="24.9" height="26.65" fill="#d3d5d4" stroke="#0a0a0a" stroke-width="1.5"/>
<rect x="1150.75" y="757.65" width="24.8" height="222.85" fill="#636464" stroke="#0a0a0a" stroke-width="1.5"/>
<rect x="1208.45" y="978.95" width="25.4" height="1.55" fill="#fff" stroke="#0a0a0a" stroke-width="1.5"/>
<rect x="1240.25" y="965.85" width="24.9" height="14.65" fill="#d3d5d4" stroke="#0a0a0a" stroke-width="1.5"/>
<rect x="1271.95" y="889.15" width="24.4" height="91.35" fill="#636464" stroke="#0a0a0a" stroke-width="1.5"/>
<line x1="1100.3" y1="963.5" x2="1100.3" y2="978.3" stroke="#1c1c1c" stroke-width="1.5" stroke-linecap="butt"/>
<line x1="1093.8" y1="963.5" x2="1106.8" y2="963.5" stroke="#1c1c1c" stroke-width="1.72" stroke-linecap="butt"/>
<line x1="1131.8" y1="935" x2="1131.8" y2="954" stroke="#1c1c1c" stroke-width="1.5" stroke-linecap="butt"/>
<line x1="1125.3" y1="935" x2="1138.3" y2="935" stroke="#1c1c1c" stroke-width="1.72" stroke-linecap="butt"/>
<line x1="1163.3" y1="741.8" x2="1163.3" y2="757.8" stroke="#1c1c1c" stroke-width="1.5" stroke-linecap="butt"/>
<line x1="1156.8" y1="741.8" x2="1169.8" y2="741.8" stroke="#1c1c1c" stroke-width="1.72" stroke-linecap="butt"/>
<line x1="1221.3" y1="966.5" x2="1221.3" y2="979" stroke="#1c1c1c" stroke-width="1.5" stroke-linecap="butt"/>
<line x1="1214.8" y1="966.5" x2="1227.8" y2="966.5" stroke="#1c1c1c" stroke-width="1.72" stroke-linecap="butt"/>
<line x1="1252.5" y1="951.8" x2="1252.5" y2="966" stroke="#1c1c1c" stroke-width="1.5" stroke-linecap="butt"/>
<line x1="1246" y1="951.8" x2="1259" y2="951.8" stroke="#1c1c1c" stroke-width="1.72" stroke-linecap="butt"/>
<line x1="1284.3" y1="867.8" x2="1284.3" y2="889.3" stroke="#1c1c1c" stroke-width="1.5" stroke-linecap="butt"/>
<line x1="1277.8" y1="867.8" x2="1290.8" y2="867.8" stroke="#1c1c1c" stroke-width="1.72" stroke-linecap="butt"/>
<line x1="1074.3" y1="681.5" x2="1074.3" y2="982.2" stroke="#0a0a0a" stroke-width="3.4" stroke-linecap="butt"/>
<line x1="1061.8" y1="683.2" x2="1074.3" y2="683.2" stroke="#0a0a0a" stroke-width="3.4" stroke-linecap="butt"/>
<text x="0" y="0" font-size="24.56" font-weight="bold" font-style="normal" text-anchor="end" transform="translate(1058.3 691.63) scale(0.9363 1)">10000</text>
<line x1="1061.8" y1="758" x2="1074.3" y2="758" stroke="#0a0a0a" stroke-width="3.4" stroke-linecap="butt"/>
<text x="0" y="0" font-size="24.56" font-weight="bold" font-style="normal" text-anchor="end" transform="translate(1058.3 766.43) scale(0.9363 1)">1000</text>
<line x1="1061.8" y1="832.4" x2="1074.3" y2="832.4" stroke="#0a0a0a" stroke-width="3.4" stroke-linecap="butt"/>
<text x="0" y="0" font-size="24.56" font-weight="bold" font-style="normal" text-anchor="end" transform="translate(1058.3 840.83) scale(0.9363 1)">100</text>
<line x1="1061.8" y1="906.8" x2="1074.3" y2="906.8" stroke="#0a0a0a" stroke-width="3.4" stroke-linecap="butt"/>
<text x="0" y="0" font-size="24.56" font-weight="bold" font-style="normal" text-anchor="end" transform="translate(1058.3 915.23) scale(0.9363 1)">10</text>
<line x1="1061.8" y1="980.5" x2="1074.3" y2="980.5" stroke="#0a0a0a" stroke-width="3.4" stroke-linecap="butt"/>
<text x="0" y="0" font-size="24.56" font-weight="bold" font-style="normal" text-anchor="end" transform="translate(1058.3 988.93) scale(0.9363 1)">1</text>
<line x1="1062" y1="980.5" x2="1312.5" y2="980.5" stroke="#0a0a0a" stroke-width="3.4" stroke-linecap="butt"/>
<line x1="1131.8" y1="980.5" x2="1131.8" y2="993" stroke="#0a0a0a" stroke-width="3.4" stroke-linecap="butt"/>
<line x1="1252.5" y1="980.5" x2="1252.5" y2="993" stroke="#0a0a0a" stroke-width="3.4" stroke-linecap="butt"/>
<text x="1132.5" y="1017" font-size="22" font-weight="bold" font-style="italic" text-anchor="middle">Ifit3</text>
<text x="1252.5" y="1017" font-size="22" font-weight="bold" font-style="italic" text-anchor="middle">Ifi27</text>
<text x="1165.28" y="735.92" font-size="26.3" font-weight="normal" font-style="normal" text-anchor="middle" letter-spacing="4.55" font-family="'DejaVu Sans', 'Liberation Sans', sans-serif" style="stroke:#0a0a0a;stroke-width:0.9px;stroke-linejoin:round">**</text>
<text x="1283.8" y="857.02" font-size="26.3" font-weight="normal" font-style="normal" text-anchor="middle" font-family="'DejaVu Sans', 'Liberation Sans', sans-serif" style="stroke:#0a0a0a;stroke-width:0.9px;stroke-linejoin:round">*</text>
<rect x="1223.2" y="696.9" width="29.9" height="13.7" fill="#fff" stroke="#1c1c1c" stroke-width="1.4"/>
<text x="0" y="0" font-size="24.36" font-weight="normal" font-style="normal" text-anchor="start" transform="translate(1272.5 711.3) scale(0.9571 1)">Con</text>
<rect x="1223.2" y="728.2" width="29.9" height="13.6" fill="#d3d5d4" stroke="#1c1c1c" stroke-width="1.4"/>
<text x="0" y="0" font-size="24.36" font-weight="normal" font-style="normal" text-anchor="start" transform="translate(1272.5 742.5) scale(0.9571 1)">IFNL3</text>
<rect x="1224.5" y="756.2" width="30.3" height="16.4" fill="#636464" stroke="#1c1c1c" stroke-width="1.4"/>
<text x="0" y="0" font-size="24.36" font-weight="normal" font-style="normal" text-anchor="start" transform="translate(1272.5 773.3) scale(0.9571 1)">IFN<tspan font-family="'Liberation Serif', 'DejaVu Serif', serif" font-weight="normal" font-style="normal">β</tspan></text>
<text x="0" y="0" font-size="29.33" font-weight="bold" font-style="normal" text-anchor="start" transform="translate(1355.8 617.3) scale(0.9471 1)">H</text>
<text x="0" y="0" font-size="29.12" font-weight="bold" font-style="normal" text-anchor="middle" transform="translate(1627 660) scale(0.9615 1)">GMCSF</text>
<text x="1418.21" y="841.3" font-size="24.6" font-weight="normal" font-style="normal" text-anchor="middle" transform="rotate(-90 1418.21 841.3)" style="stroke:#0a0a0a;stroke-width:0.7px;stroke-linejoin:round">Fold Change mRNA</text>
<rect x="1499.75" y="972.15" width="30.1" height="13.35" fill="#fff" stroke="#0a0a0a" stroke-width="1.5"/>
<rect x="1537.95" y="937.15" width="30.4" height="48.35" fill="#d3d5d4" stroke="#0a0a0a" stroke-width="1.5"/>
<rect x="1575.95" y="731.35" width="30.4" height="254.15" fill="#636464" stroke="#0a0a0a" stroke-width="1.5"/>
<rect x="1685.95" y="979.35" width="30.2" height="6.15" fill="#d3d5d4" stroke="#0a0a0a" stroke-width="1.5"/>
<rect x="1723.75" y="913.35" width="30.4" height="72.15" fill="#636464" stroke="#0a0a0a" stroke-width="1.5"/>
<line x1="1514.8" y1="964.5" x2="1514.8" y2="972.3" stroke="#1c1c1c" stroke-width="1.5" stroke-linecap="butt"/>
<line x1="1507.05" y1="964.5" x2="1522.55" y2="964.5" stroke="#1c1c1c" stroke-width="1.72" stroke-linecap="butt"/>
<line x1="1553.3" y1="929" x2="1553.3" y2="937.3" stroke="#1c1c1c" stroke-width="1.5" stroke-linecap="butt"/>
<line x1="1545.55" y1="929" x2="1561.05" y2="929" stroke="#1c1c1c" stroke-width="1.72" stroke-linecap="butt"/>
<line x1="1591.5" y1="720.3" x2="1591.5" y2="731.5" stroke="#1c1c1c" stroke-width="1.5" stroke-linecap="butt"/>
<line x1="1583.75" y1="720.3" x2="1599.25" y2="720.3" stroke="#1c1c1c" stroke-width="1.72" stroke-linecap="butt"/>
<line x1="1700.8" y1="970" x2="1700.8" y2="979.5" stroke="#1c1c1c" stroke-width="1.5" stroke-linecap="butt"/>
<line x1="1693.05" y1="970" x2="1708.55" y2="970" stroke="#1c1c1c" stroke-width="1.72" stroke-linecap="butt"/>
<line x1="1739" y1="901.5" x2="1739" y2="913.5" stroke="#1c1c1c" stroke-width="1.5" stroke-linecap="butt"/>
<line x1="1731.25" y1="901.5" x2="1746.75" y2="901.5" stroke="#1c1c1c" stroke-width="1.72" stroke-linecap="butt"/>
<line x1="1482.7" y1="695.8" x2="1482.7" y2="986.9" stroke="#0a0a0a" stroke-width="2.8" stroke-linecap="butt"/>
<line x1="1470.4" y1="697.7" x2="1482.7" y2="697.7" stroke="#0a0a0a" stroke-width="2.8" stroke-linecap="butt"/>
<text x="0" y="0" font-size="22.68" font-weight="normal" font-style="normal" text-anchor="end" transform="translate(1467.2 705.48) scale(0.9524 1)" style="stroke:#0a0a0a;stroke-width:0.9px;stroke-linejoin:round">100</text>
<line x1="1470.4" y1="841.5" x2="1482.7" y2="841.5" stroke="#0a0a0a" stroke-width="2.8" stroke-linecap="butt"/>
<text x="0" y="0" font-size="22.68" font-weight="normal" font-style="normal" text-anchor="end" transform="translate(1467.2 849.28) scale(0.9524 1)" style="stroke:#0a0a0a;stroke-width:0.9px;stroke-linejoin:round">10</text>
<line x1="1470.4" y1="985.5" x2="1482.7" y2="985.5" stroke="#0a0a0a" stroke-width="2.8" stroke-linecap="butt"/>
<text x="0" y="0" font-size="22.68" font-weight="normal" font-style="normal" text-anchor="end" transform="translate(1467.2 993.28) scale(0.9524 1)" style="stroke:#0a0a0a;stroke-width:0.9px;stroke-linejoin:round">1</text>
<line x1="1470.8" y1="985.5" x2="1772" y2="985.5" stroke="#0a0a0a" stroke-width="3" stroke-linecap="butt"/>
<line x1="1553.3" y1="985.5" x2="1553.3" y2="997.5" stroke="#0a0a0a" stroke-width="3" stroke-linecap="butt"/>
<line x1="1700.8" y1="985.5" x2="1700.8" y2="997.5" stroke="#0a0a0a" stroke-width="3" stroke-linecap="butt"/>
<text x="1553.3" y="1020.5" font-size="22" font-weight="bold" font-style="italic" text-anchor="middle">Ifit3</text>
<text x="1700.8" y="1020.5" font-size="22" font-weight="bold" font-style="italic" text-anchor="middle">Ifi27</text>
<text x="1591.28" y="707.02" font-size="26.3" font-weight="normal" font-style="normal" text-anchor="middle" letter-spacing="4.55" font-family="'DejaVu Sans', 'Liberation Sans', sans-serif" style="stroke:#0a0a0a;stroke-width:0.9px;stroke-linejoin:round">**</text>
<text x="1739.28" y="891.52" font-size="26.3" font-weight="normal" font-style="normal" text-anchor="middle" letter-spacing="4.55" font-family="'DejaVu Sans', 'Liberation Sans', sans-serif" style="stroke:#0a0a0a;stroke-width:0.9px;stroke-linejoin:round">**</text>
<rect x="1643" y="710.2" width="29.3" height="13.4" fill="#fff" stroke="#1c1c1c" stroke-width="1.4"/>
<text x="0" y="0" font-size="24.36" font-weight="normal" font-style="normal" text-anchor="start" transform="translate(1690.8 724.3) scale(0.9476 1)">Con</text>
<rect x="1643" y="740.2" width="29.3" height="13.4" fill="#d3d5d4" stroke="#1c1c1c" stroke-width="1.4"/>
<text x="0" y="0" font-size="24.36" font-weight="normal" font-style="normal" text-anchor="start" transform="translate(1690.8 754.3) scale(0.9476 1)">IFNL3</text>
<rect x="1643" y="770.7" width="29.3" height="15.4" fill="#636464" stroke="#1c1c1c" stroke-width="1.4"/>
<text x="0" y="0" font-size="24.36" font-weight="normal" font-style="normal" text-anchor="start" transform="translate(1690.8 787.3) scale(0.9476 1)">IFN<tspan font-family="'Liberation Serif', 'DejaVu Serif', serif" font-weight="normal" font-style="normal">β</tspan></text>
</svg>
</body>
</html>
